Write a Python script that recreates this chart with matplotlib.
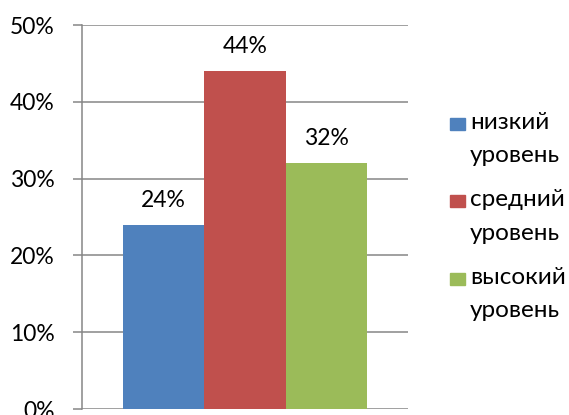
import matplotlib.pyplot as plt
from matplotlib.patches import Rectangle
from matplotlib.ticker import PercentFormatter

plt.rcParams['font.family'] = ['Lato', 'DejaVu Sans']

labels = ['низкий\nуровень', 'средний\nуровень', 'высокий\nуровень']
values = [24, 44, 32]
colors = ['#4F81BD', '#C0504D', '#9BBB59']
yticks = [0, 10, 20, 30, 40, 50]

grid_color = '#868686'
fs = 16.5

fig = plt.figure(figsize=(5.69, 4.15), dpi=100)
ax = fig.add_axes([82 / 569, 1 - 409 / 415, 326 / 569, 384 / 415])

xs = range(len(values))
bars = ax.bar(xs, values, width=1.0, color=colors, zorder=3)
for b, v in zip(bars, values):
    ax.annotate(f'{v}%', (b.get_x() + b.get_width() / 2, v), xytext=(0, 13),
                textcoords='offset points', ha='center', va='baseline', fontsize=fs)

ax.set_xlim(-1.0, 3.0)
ax.set_ylim(0, 50)
ax.set_yticks(yticks)
ax.yaxis.set_major_formatter(PercentFormatter(decimals=0))
ax.set_xticks([])
ax.grid(axis='y', color=grid_color, linewidth=1.1, zorder=0)
ax.tick_params(axis='y', length=6.5, width=1.1, color=grid_color, pad=13, labelsize=fs)
for s in ['top', 'right', 'bottom']:
    ax.spines[s].set_visible(False)
ax.spines['left'].set_color(grid_color)
ax.spines['left'].set_linewidth(1.1)

# legend drawn by hand so the square sits next to the first line
W, H = 569, 415
for i, (lab, c) in enumerate(zip(labels, colors)):
    cy = 124 + i * 77.5
    fig.patches.append(Rectangle((450 / W, 1 - (cy + 6) / H), 15 / W, 12 / H,
                                 transform=fig.transFigure, color=c))
    for j, line in enumerate(lab.split('\n')):
        fig.text(470 / W, 1 - (cy + 5 + 33 * j) / H, line, fontsize=17.5,
                 va='baseline', ha='left')

fig.savefig('out.png', dpi=100)
